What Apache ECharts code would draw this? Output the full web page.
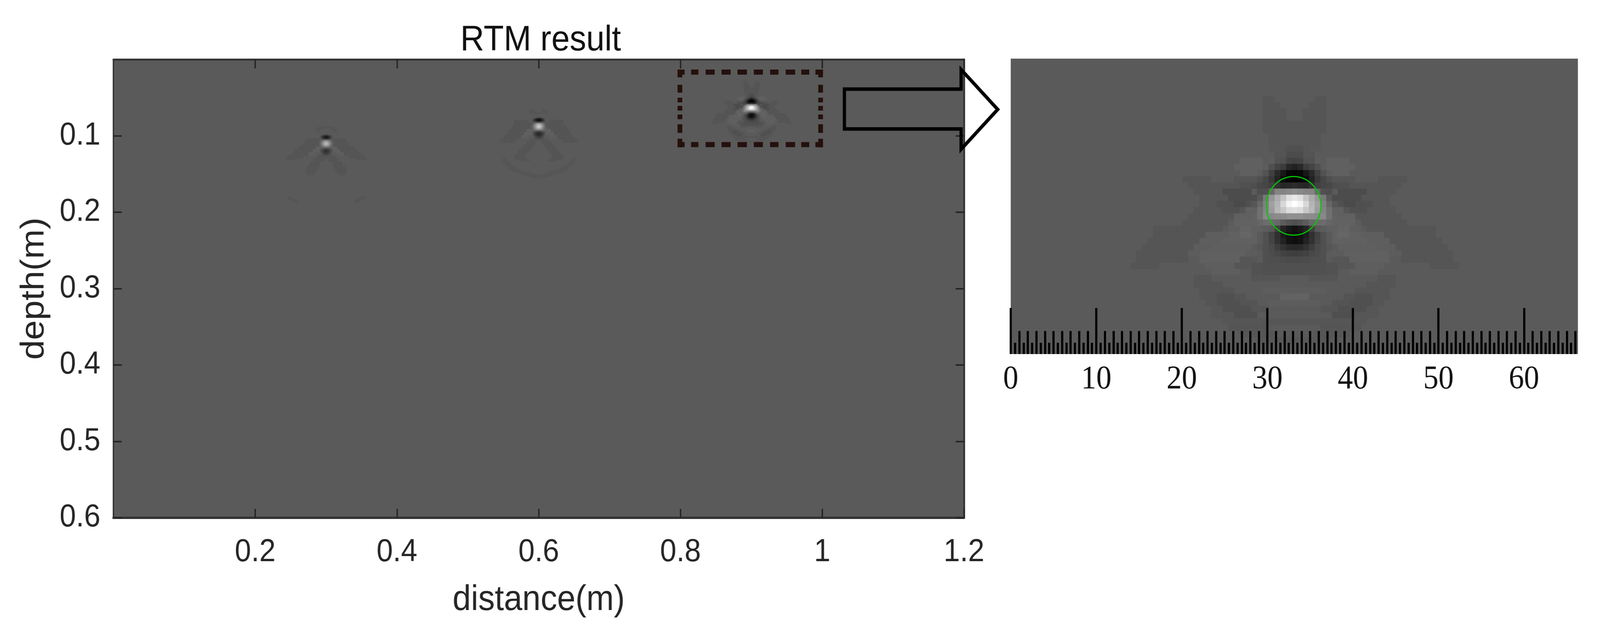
<!DOCTYPE html>
<html>
<head>
<meta charset="utf-8">
<style>html,body{margin:0;padding:0;background:#fff;overflow:hidden}#c{width:4415px;height:1630px;transform-origin:0 0}</style>
<script src="https://cdn.jsdelivr.net/npm/echarts@6/dist/echarts.min.js"></script>
</head>
<body>
<div id="c"></div>
<script>
// ---------- tick labels and text ----------
const chartTitle = 'RTM result';
const xName = 'distance(m)';
const yName = 'depth(m)';
const distanceTicks = [0.2, 0.4, 0.6, 0.8, 1, 1.2];
const depthTicks = [0.1, 0.2, 0.3, 0.4, 0.5, 0.6];
const rulerLabels = [0, 10, 20, 30, 40, 50, 60];
const rulerMax = 66.3;
const rulerTall = rulerLabels;
const rulerMid = Array.from({length: 67}, (_, i) => i);
const rulerSmall = Array.from({length: 133}, (_, i) => i / 2);

// ---------- image values: gray levels ----------
const CELL = 0.002;            // model cell, metres
const D = 0x55;                // faint dark arms

// [rowFrom, rowTo, |colFrom|, |colTo|, gray] relative to each scatterer
const blob3Spans = [
  [-17,-17,4,5,D],[-16,-16,3,5,D],[-15,-14,2,5,D],[-13,-12,0,5,D],[-11,-9,0,4,D],
  [-7,-7,6,9,0x60],[-6,-6,5,10,0x60],[-5,-5,6,9,0x60],
  [-4,-4,15,19,D],[-4,-4,7,10,0x55],
  [-3,-3,10,18,D],[-3,-3,8,9,0x50],[-3,-3,7,7,0x4d],
  [-2,-2,13,17,D],[-2,-2,8,12,0x4c],
  [-1,-1,12,16,D],[-1,-1,7,11,0x4c],
  [0,0,14,16,D],[0,0,11,13,0x50],[0,0,9,10,0x4a],[0,0,8,8,0x50],
  [1,1,13,17,D],[1,1,10,12,0x50],[1,1,9,9,0x56],[1,1,7,8,0x60],
  [2,2,11,18,D],[2,2,7,10,0x60],
  [3,3,12,19,D],[3,3,11,11,0x5c],[3,3,6,10,0x62],
  [4,4,13,24,D],[4,4,10,11,0x5e],[4,4,8,9,0x64],[4,4,6,7,0x60],
  [5,5,16,24,D],[5,5,12,15,0x5e],[5,5,7,11,0x61],[5,5,8,9,0x66],
  [6,6,17,25,D],[6,6,13,16,0x5e],[6,6,7,12,0x61],
  [7,7,18,26,D],[7,7,14,17,0x5d],[7,7,8,14,0x5f],
  [8,8,19,27,D],[8,8,16,18,0x5c],[8,8,9,16,0x60],[8,8,7,8,0x5c],
  [9,9,19,27,D],[9,9,10,16,0x60],[9,9,7,9,0x56],
  [10,10,24,28,D],[10,10,10,15,0x5e],[10,10,8,10,0x56],[10,10,6,7,0x52],[10,10,0,5,0x50],
  [11,11,10,14,0x5e],[11,11,6,7,0x52],[11,11,0,5,0x50],
  [12,12,15,17,D],[12,12,3,7,0x55],
  [13,13,13,17,D],
  [14,14,11,16,D],[14,14,0,5,0x5d],
  [15,15,13,16,D],[15,15,11,13,0x50],[15,15,9,10,0x54],[15,15,0,2,0x63],
  [16,16,13,15,D],[16,16,10,13,0x50],[16,16,7,9,0x54],[16,16,0,4,0x5d],
  [17,17,12,14,0x56],[17,17,8,12,0x50],[17,17,5,7,0x55],
  [18,18,10,14,0x56],[18,18,7,10,0x4f],
  [19,19,6,12,0x56],[19,19,0,5,0x56],
  [20,20,5,11,0x55],[21,21,4,9,0x56],[22,22,0,6,0x57]
];
// [row, [gray at col 0, col 1, ...]]
const blob3Core = [
  [-9,[0x50,0x50,0x54,0x56,0x56]],
  [-8,[0x4c,0x4c,0x54,0x54,0x5a]],
  [-7,[0x42,0x44,0x50,0x52,0x5c]],
  [-6,[0x22,0x28,0x3c,0x44,0x50,0x5c]],
  [-5,[0x05,0x08,0x18,0x2a,0x40,0x52,0x5c]],
  [-4,[0x00,0x04,0x0c,0x22,0x38,0x46,0x50,0x55]],
  [-3,[0x2c,0x28,0x26,0x30,0x40,0x46,0x48,0x4e]],
  [-2,[0x8c,0x88,0x84,0x84,0x68,0x50,0x4e]],
  [-1,[0xe8,0xe0,0xc4,0xac,0x96,0x78,0x58]],
  [0,[0xff,0xf4,0xd8,0xb4,0xa0,0x80,0x66,0x56]],
  [1,[0xe0,0xdc,0xc8,0xb8,0x9c,0x84,0x70,0x60]],
  [2,[0x90,0x90,0x8c,0x8c,0x88,0x88,0x70,0x62]],
  [3,[0x50,0x54,0x5c,0x68,0x6c,0x6c,0x66]],
  [4,[0x12,0x18,0x24,0x40,0x58,0x5c,0x60]],
  [5,[0x0c,0x10,0x1c,0x30,0x42,0x50,0x5a]],
  [6,[0x0e,0x12,0x22,0x32,0x44,0x50,0x5a]],
  [7,[0x28,0x2a,0x32,0x3e,0x4a,0x50,0x56]],
  [8,[0x3e,0x40,0x42,0x48,0x4c,0x50]],
  [9,[0x4a,0x4a,0x4c,0x4e,0x4e,0x50]]
];

const blob2Spans = [
  [-11,-10,3,6,0x56],[-9,-9,0,6,0x56],
  [-4,-3,8,17,D],[-2,-1,6,17,D],[0,1,7,19,D],[2,3,9,21,D],[4,5,11,22,D],[6,7,13,24,D],[8,8,15,26,D],[9,10,17,27,D],
  [2,3,5,8,0x60],[4,5,5,10,0x60],[6,7,8,12,0x5e],
  [8,8,1,5,D],[9,9,2,6,D],[10,11,3,8,D],[12,13,4,10,D],[14,15,6,12,D],[16,17,8,14,D],[18,18,9,16,D],[19,20,10,17,D],[21,21,9,16,D],[22,22,7,12,D],
  [21,21,24,25,0x56],[22,22,23,25,0x56],[23,23,22,25,0x56],[24,24,21,24,0x56],[25,25,20,23,0x56],[26,26,18,22,0x56],
  [27,27,16,21,0x56],[28,28,14,20,0x56],[29,29,11,18,0x56],[30,30,7,15,0x56],[31,31,3,12,0x56],[32,32,0,9,0x56],[33,33,0,5,0x56]
];
const blob2Core = [
  [-6,[0x48,0x50,0x58]],
  [-5,[0x18,0x1c,0x28,0x38,0x50]],
  [-4,[0x10,0x14,0x20,0x30,0x48]],
  [-3,[0x40,0x40,0x48,0x50,0x55]],
  [-2,[0x98,0x94,0x88,0x70,0x60,0x58]],
  [-1,[0xc0,0xb8,0xa0,0x88,0x70,0x5a]],
  [0,[0xd0,0xc4,0xa8,0x8c,0x74,0x5c]],
  [1,[0xb8,0xb0,0x98,0x84,0x70,0x5c]],
  [2,[0x84,0x84,0x7c,0x74,0x64]],
  [3,[0x50,0x50,0x54,0x58]],
  [4,[0x2c,0x30,0x38,0x44,0x50]],
  [5,[0x28,0x2c,0x34,0x42,0x50]],
  [6,[0x30,0x34,0x3c,0x48]],
  [7,[0x40,0x44,0x48,0x50]],
  [8,[0x4c,0x50]]
];

const blob1Spans = [
  [-11,-11,0,5,0x56],[-10,-10,3,7,0x56],[-9,-8,5,7,0x56],
  [-3,-3,5,13,D],[-2,-1,5,14,D],[0,1,6,16,D],[2,3,8,19,D],[4,5,10,22,D],[6,7,13,24,D],[8,9,17,27,D],[10,10,22,28,D],
  [2,3,4,7,0x60],[4,5,5,9,0x60],[6,7,8,12,0x5e],
  [8,9,0,6,D],[10,11,2,8,D],[12,14,5,11,D],[15,16,6,13,D],[17,18,7,14,D],[19,20,9,13,D],
  [35,35,25,27,0x56],[36,36,23,26,0x56],[37,37,21,24,0x56],[38,38,20,22,0x56]
];
const blob1Core = [
  [-6,[0x4c,0x50,0x56]],
  [-5,[0x20,0x24,0x30,0x40,0x52]],
  [-4,[0x18,0x1c,0x28,0x3a,0x50]],
  [-3,[0x44,0x44,0x4a,0x52]],
  [-2,[0x8c,0x88,0x7c,0x6c,0x5e]],
  [-1,[0xb0,0xa8,0x94,0x7c,0x68,0x5a]],
  [0,[0xbc,0xb0,0x9c,0x80,0x6a,0x5a]],
  [1,[0xa8,0xa0,0x90,0x78,0x66,0x5a]],
  [2,[0x7c,0x78,0x70,0x68,0x5e]],
  [3,[0x50,0x50,0x54,0x58]],
  [4,[0x34,0x38,0x40,0x4a,0x52]],
  [5,[0x30,0x34,0x3c,0x48,0x52]],
  [6,[0x38,0x3c,0x42,0x4c]],
  [7,[0x46,0x48,0x4c,0x52]]
];

// scatterer positions: [distance, depth]
const blob1Pos = [0.3, 0.1105];
const blob2Pos = [0.6, 0.0880];
const blob3Pos = [0.9, 0.0634];
const circlePos = [0.8997, 0.0640];

// dashed zoom box, in metres
const boxLeft = 0.7992, boxRight = 0.9977, boxTop = 0.01662, boxBottom = 0.1115;
const boxSpanL = 0.7961, boxSpanR = 1.0010, boxSpanT = 0.0133, boxSpanB = 0.1151;

// ---------- build cells ----------
function buildCells(pos, spans, core) {
  const m = new Map();
  const put = (r, k, g) => m.set(r + ',' + k, [pos[0] + k * CELL, pos[1] + r * CELL, g]);
  spans.forEach(([r0, r1, k0, k1, g]) => {
    for (let r = r0; r <= r1; r++) for (let k = k0; k <= k1; k++) { put(r, k, g); put(r, -k, g); }
  });
  core.forEach(([r, vals]) => vals.forEach((g, k) => { put(r, k, g); put(r, -k, g); }));
  return Array.from(m.values());
}
const blob1Cells = buildCells(blob1Pos, blob1Spans, blob1Core);
const blob2Cells = buildCells(blob2Pos, blob2Spans, blob2Core);
const blob3Cells = buildCells(blob3Pos, blob3Spans, blob3Core);

function cellItem(params, api) {
  const c = api.coord([api.value(0), api.value(1)]);
  const s = api.size([CELL, CELL]);
  const g = api.value(2);
  return {
    type: 'rect',
    shape: {x: c[0] - s[0] / 2, y: c[1] - s[1] / 2, width: s[0] + 0.6, height: s[1] + 0.6},
    style: {fill: 'rgb(' + g + ',' + g + ',' + g + ')'}
  };
}
const cellSeries = (data, xi, yi) => ({
  type: 'custom', renderItem: cellItem, data, xAxisIndex: xi, yAxisIndex: yi,
  encode: {x: 0, y: 1}, silent: true, animation: false, progressive: 0, z: 2
});
const boxLine = (pts, dash) => ({
  type: 'line', data: pts, xAxisIndex: 0, yAxisIndex: 0, showSymbol: false, silent: true, animation: false, z: 5, clip: false,
  lineStyle: {color: '#24100c', width: 13, type: dash, cap: 'butt'}
});

const TEXT = '#262626', SANS = '"Liberation Sans", Arial, sans-serif', SERIF = '"Liberation Serif", serif';
const GL = 313, GT = 152, GW = 2347, GH = 1173;
const IL = 2789, IT = 150, IW = 1565, IH = 756;
const mainGrid = {left: GL, top: GT, width: GW, height: GH, backgroundColor: '#5a5a5a', show: true, borderWidth: 0, containLabel: false};
const insetGrid = {left: IL, top: IT, width: IW, height: IH, backgroundColor: '#5a5a5a', show: true, borderWidth: 0, containLabel: false};
const blankGrid = {left: IL, top: IT, width: IW, height: IH, show: false};

const mainTick = {show: true, inside: true, length: 23, lineStyle: {color: TEXT, width: 4}};
const hidden = {axisLine: {show: false}, axisTick: {show: false}, axisLabel: {show: false}, splitLine: {show: false}};
const frameLine = w => ({show: true, onZero: false, lineStyle: {color: '#333', width: w}});

const rulerAxis = (gridIndex, values, len, labels) => ({
  type: 'value', gridIndex, min: 0, max: rulerMax, position: 'bottom', z: 10,
  axisLine: {show: false, onZero: false}, splitLine: {show: false},
  axisTick: {show: true, inside: true, length: len, customValues: values, lineStyle: {color: '#000', width: 6}},
  axisLabel: labels ? {show: true, customValues: labels, margin: 24, fontFamily: SERIF, fontSize: 84, color: '#111'} : {show: false}
});

const option = {
  animation: false,
  backgroundColor: '#fff',
  title: {text: chartTitle, left: 1487, top: 53, textAlign: 'center',
    textStyle: {fontFamily: SANS, fontWeight: 'normal', fontSize: 91, color: '#111'}},
  grid: [mainGrid, insetGrid, blankGrid, blankGrid, blankGrid],
  xAxis: [
    {type: 'value', gridIndex: 0, min: 0, max: 1.2, position: 'bottom',
      name: xName, nameLocation: 'middle', nameGap: 165, nameTextStyle: {fontFamily: SANS, fontSize: 91, color: TEXT},
      axisLine: frameLine(6), splitLine: {show: false},
      axisTick: {...mainTick, customValues: distanceTicks},
      axisLabel: {show: true, customValues: distanceTicks, margin: 48, fontFamily: SANS, fontSize: 81, color: TEXT}},
    {type: 'value', gridIndex: 0, min: 0, max: 1.2, position: 'top',
      axisLine: frameLine(5), splitLine: {show: false},
      axisTick: {...mainTick, customValues: distanceTicks}, axisLabel: {show: false}},
    {type: 'value', gridIndex: 1, min: 0.80151, max: 0.99837, ...hidden},
    rulerAxis(2, rulerTall, 118, rulerLabels),
    rulerAxis(3, rulerMid, 59),
    rulerAxis(4, rulerSmall, 29)
  ],
  yAxis: [
    {type: 'value', gridIndex: 0, min: 0, max: 0.6, inverse: true, position: 'left',
      name: yName, nameLocation: 'middle', nameGap: 173, nameRotate: 90, nameTextStyle: {fontFamily: SANS, fontSize: 91, color: TEXT},
      axisLine: frameLine(4), splitLine: {show: false},
      axisTick: {...mainTick, customValues: depthTicks},
      axisLabel: {show: true, customValues: depthTicks, margin: 36, fontFamily: SANS, fontSize: 81, color: TEXT}},
    {type: 'value', gridIndex: 0, min: 0, max: 0.6, inverse: true, position: 'right',
      axisLine: frameLine(5), splitLine: {show: false},
      axisTick: {...mainTick, customValues: depthTicks}, axisLabel: {show: false}},
    {type: 'value', gridIndex: 1, min: 0.01631, max: 0.11201, inverse: true, ...hidden},
    {type: 'value', gridIndex: 2, ...hidden},
    {type: 'value', gridIndex: 3, ...hidden},
    {type: 'value', gridIndex: 4, ...hidden}
  ],
  series: [
    cellSeries(blob1Cells, 0, 0),
    cellSeries(blob2Cells, 0, 0),
    cellSeries(blob3Cells, 0, 0),
    cellSeries(blob3Cells, 2, 2),
    boxLine([[boxSpanL, boxTop], [boxSpanR, boxTop]], [19,18,20,20,25,19,25,19,26,19,25,20,23,20,26,17,22,17,21,10]),
    boxLine([[boxSpanL, boxBottom], [boxSpanR, boxBottom]], [19,18,20,20,25,19,25,19,26,19,25,20,23,20,26,17,22,17,21,10]),
    boxLine([[boxLeft, boxSpanT], [boxLeft, boxSpanB]], [20,19,20,13,12,9,12,10,12,13,22,15,22,10]),
    boxLine([[boxRight, boxSpanT], [boxRight, boxSpanB]], [20,19,20,13,12,9,12,10,12,13,22,15,22,10]),
    {type: 'scatter', data: [circlePos], xAxisIndex: 2, yAxisIndex: 2, symbol: 'circle', symbolSize: 150, silent: true, z: 6,
      itemStyle: {color: 'rgba(0,0,0,0)', borderColor: '#00cc00', borderWidth: 3, opacity: 1}}
  ],
  graphic: [{
    type: 'polygon', z: 50, silent: true,
    shape: {points: [[2330,228],[2652,228],[2652,178],[2753,280],[2652,382],[2652,330],[2330,330]]},
    style: {fill: 'none', stroke: '#000', lineWidth: 9, lineJoin: 'miter'}
  }]
};
// The browser caps the window's width; squeeze the full 4415-wide drawing into what is there.
const box = document.getElementById('c');
const fit = Math.min(1, window.innerWidth / 4415);
if (fit < 1) box.style.transform = 'scaleX(' + fit + ')';
echarts.init(box, null, {renderer: 'canvas', devicePixelRatio: 1}).setOption(option);
</script>
</body>
</html>
